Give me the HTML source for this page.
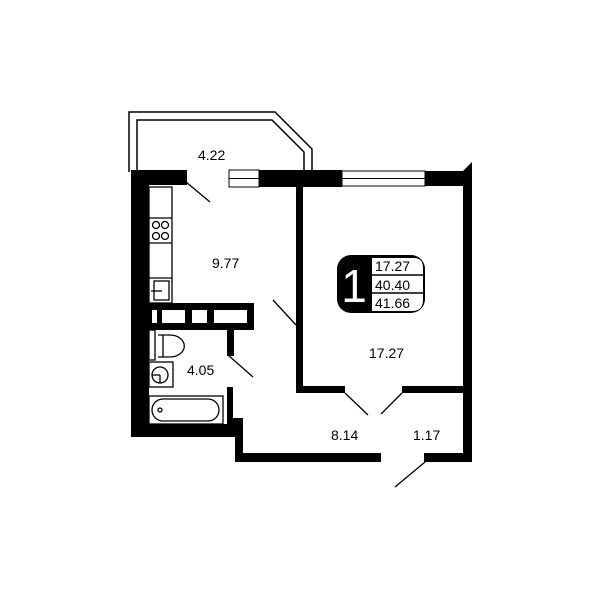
<!DOCTYPE html>
<html><head><meta charset="utf-8"><style>html,body{margin:0;padding:0;background:#fff}</style></head><body>
<svg width="600" height="600" viewBox="0 0 600 600" xmlns="http://www.w3.org/2000/svg" font-family="Liberation Sans, sans-serif">
<rect width="600" height="600" fill="#fff"/>
<!-- balcony -->
<polyline points="129,172 129,112 275,112 312,149 312,172" fill="none" stroke="#000" stroke-width="1.5"/>
<polyline points="137,172 137,120 272,120 304,152 304,172" fill="none" stroke="#000" stroke-width="1.5"/>
<g fill="#000">
<rect x="131" y="170" width="56" height="15"/>
<rect x="131" y="170" width="18" height="267"/>
<rect x="259" y="170" width="83" height="17"/>
<rect x="425" y="171" width="47" height="15"/>
<polygon points="463,171 472,162 472,462 463,462"/>
<rect x="296" y="185" width="7" height="208"/>
<rect x="296" y="386" width="49" height="7"/>
<rect x="402" y="386" width="70" height="7"/>
<rect x="149" y="303" width="105" height="27"/>
<rect x="227" y="328" width="7" height="28"/>
<rect x="131" y="424" width="104" height="13"/>
<rect x="227" y="387" width="6" height="40"/>
<rect x="233" y="418" width="10" height="6"/>
<rect x="235" y="420" width="8" height="42"/>
<rect x="235" y="453" width="146" height="9"/>
<rect x="424" y="453" width="48" height="9"/>
</g>
<g fill="#fff" stroke="#000" stroke-width="1">
<rect x="229" y="170" width="30" height="17"/><line x1="229" y1="178.5" x2="259" y2="178.5"/>
<rect x="342" y="171" width="83" height="15"/><line x1="342" y1="178.5" x2="425" y2="178.5"/>
</g>
<g fill="#fff">
<rect x="152" y="310" width="5" height="13"/>
<rect x="162" y="310" width="23" height="13"/>
<rect x="192" y="310" width="15" height="13"/>
<rect x="214" y="310" width="33" height="13"/>
</g>
<g stroke="#000" stroke-width="1.3" fill="none">
<line x1="186" y1="182" x2="210" y2="202"/>
<line x1="273" y1="300" x2="296" y2="325"/>
<line x1="345" y1="393" x2="368" y2="415"/>
<line x1="402" y1="393" x2="381" y2="414"/>
<line x1="228" y1="355" x2="253" y2="377"/>
<line x1="425" y1="462" x2="395" y2="487"/>
<!-- kitchen -->
<rect x="149" y="187" width="23" height="116"/>
<line x1="149" y1="218" x2="172" y2="218"/><line x1="149" y1="243" x2="172" y2="243"/>
<circle cx="156" cy="225" r="3.5"/><circle cx="165" cy="225" r="3.5"/>
<circle cx="156" cy="236" r="3.5"/><circle cx="165" cy="236" r="3.5"/>
<line x1="149" y1="278" x2="172" y2="278"/>
<rect x="154" y="281" width="15" height="19"/><line x1="151" y1="291" x2="162" y2="291"/>
<!-- bath -->
<rect x="149" y="330" width="6" height="30"/>
<path d="M158,335 L170,335 A13,10 0 0 1 170,357 L158,357"/>
<line x1="163" y1="335" x2="163" y2="357"/>
<rect x="149" y="362" width="24" height="25"/>
<circle cx="160" cy="375" r="8"/><line x1="152" y1="375" x2="160" y2="375"/><line x1="160" y1="375" x2="160" y2="383"/>
<rect x="149" y="396" width="74" height="28"/>
<rect x="152" y="399" width="67" height="22" rx="11"/>
<circle cx="160" cy="410" r="2"/>
</g>
<!-- label -->
<rect x="337" y="255" width="88" height="58" rx="14" fill="#000"/>
<path d="M372,258 L414,258 Q423,258 423,268 L423,300 Q423,311 412,311 L372,311 Z" fill="#fff"/>
<line x1="372" y1="275" x2="423" y2="275" stroke="#000" stroke-width="1.5"/>
<line x1="372" y1="293" x2="423" y2="293" stroke="#000" stroke-width="1.5"/>
<text x="354" y="302" font-size="46" fill="#fff" text-anchor="middle">1</text>
<g font-size="14" fill="#000">
<text x="375" y="271">17.27</text>
<text x="375" y="290">40.40</text>
<text x="375" y="308">41.66</text>
<text x="198" y="160">4.22</text>
<text x="212" y="268">9.77</text>
<text x="369" y="358">17.27</text>
<text x="187" y="375">4.05</text>
<text x="331" y="440">8.14</text>
<text x="413" y="440">1.17</text>
</g>
</svg>
</body></html>
